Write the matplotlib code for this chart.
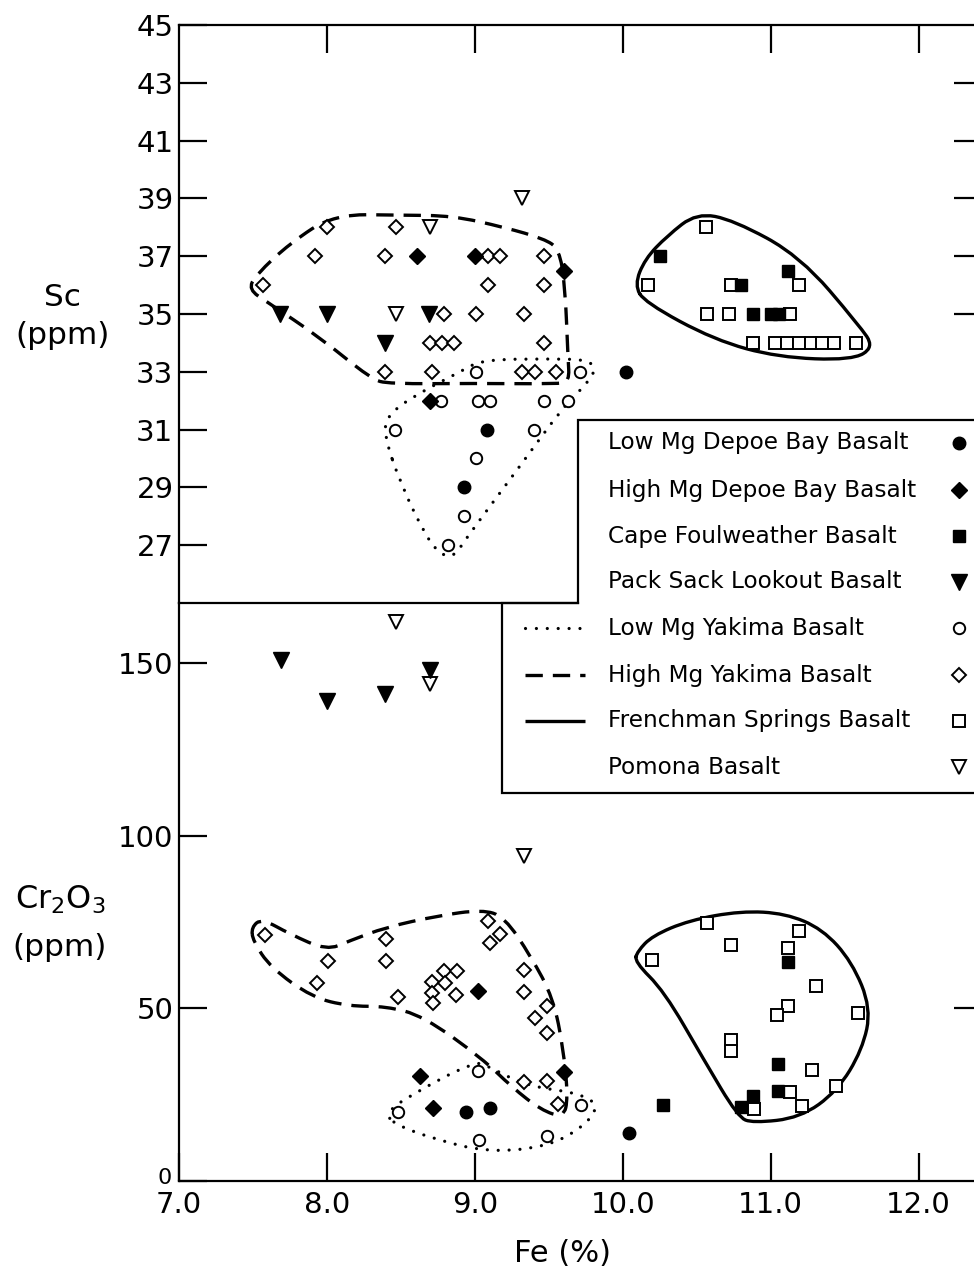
import numpy as np
import matplotlib
matplotlib.use("Agg")
import matplotlib.pyplot as plt
from matplotlib.path import Path
from matplotlib.patches import PathPatch, Polygon
from matplotlib.lines import Line2D

plt.rcParams['font.family'] = ['DejaVu Sans']
plt.rcParams['mathtext.fontset'] = 'dejavusans'

# ---- Sc (ppm) vs Fe (%) ----
low_mg_depoe_fe_sc = [9.08, 8.93, 10.02]
low_mg_depoe_sc = [31, 29, 33]
high_mg_depoe_fe_sc = [8.61, 9.00, 9.60, 8.70]
high_mg_depoe_sc = [37, 37, 36.5, 32]
cape_fe_sc = [10.25, 10.80, 11.12, 10.88, 11.00, 11.06]
cape_sc = [37, 36, 36.5, 35, 35, 35]
pack_sack_fe_sc = [7.68, 8.00, 8.39, 8.69]
pack_sack_sc = [35, 35, 34, 35]
low_mg_yakima_fe_sc = [9.01, 9.71, 8.77, 9.02, 9.10, 9.47, 9.63, 8.46, 9.40, 9.01, 8.93, 8.82]
low_mg_yakima_sc = [33, 33, 32, 32, 32, 32, 32, 31, 31, 30, 28, 27]
high_mg_yakima_fe_sc = [7.57, 8.00, 7.92, 8.47, 8.39, 9.09, 9.17, 9.47, 9.09, 9.47, 8.79,
                        9.01, 9.33, 8.70, 8.78, 8.86, 9.47, 8.39, 8.71, 9.32, 9.41, 9.55]
high_mg_yakima_sc = [36, 38, 37, 38, 37, 37, 37, 37, 36, 36, 35,
                     35, 35, 34, 34, 34, 34, 33, 33, 33, 33, 33]
frenchman_fe_sc = [10.56, 10.17, 10.73, 11.19, 10.57, 10.72, 11.13, 10.88,
                   11.03, 11.11, 11.19, 11.27, 11.35, 11.43, 11.58]
frenchman_sc = [38, 36, 36, 36, 35, 35, 35, 34, 34, 34, 34, 34, 34, 34, 34]
pomona_fe_sc = [9.32, 8.70, 8.47]
pomona_sc = [39, 38, 35]

# ---- Cr2O3 (ppm) vs Fe (%) ----
low_mg_depoe_fe_cr = [8.94, 9.10, 10.04]
low_mg_depoe_cr = [20, 21, 14]
high_mg_depoe_fe_cr = [9.02, 8.63, 8.72, 9.60]
high_mg_depoe_cr = [55, 30.5, 21, 31.5]
cape_fe_cr = [10.27, 11.12, 11.05, 11.05, 10.88, 10.80]
cape_cr = [22, 63.5, 34, 26, 24.5, 21.5]
pack_sack_fe_cr = [7.69, 8.00, 8.39, 8.70]
pack_sack_cr = [151, 139, 141, 148]
low_mg_yakima_fe_cr = [8.48, 9.02, 9.03, 9.49, 9.72]
low_mg_yakima_cr = [20, 32, 12, 13, 22]
high_mg_yakima_fe_cr = [7.58, 8.01, 7.93, 8.40, 8.40, 8.48, 8.71, 8.71, 8.72, 8.79, 8.80, 8.88,
                        8.87, 9.09, 9.17, 9.10, 9.33, 9.33, 9.49, 9.41, 9.49, 9.33, 9.49, 9.56]
high_mg_yakima_cr = [71.3, 63.6, 57.3, 70.0, 63.8, 53.2, 57.5, 54.4, 51.5, 60.7, 57.3, 60.9,
                     53.9, 75.2, 71.5, 68.9, 61.0, 54.6, 50.7, 47.2, 42.8, 28.8, 29.1, 22.2]
frenchman_fe_cr = [10.20, 10.57, 10.73, 11.12, 11.19, 11.31, 11.12, 11.04,
                   11.59, 10.73, 10.73, 11.28, 11.44, 11.13, 11.21, 10.89]
frenchman_cr = [64.1, 74.7, 68.4, 67.6, 72.5, 56.6, 50.8, 48.1,
                48.6, 40.9, 37.7, 32.2, 27.5, 25.9, 21.8, 20.8]
pomona_fe_cr = [9.33, 8.47, 8.70]
pomona_cr = [94, 162, 144]

# ---- field boundaries (control points of closed curves) ----
high_yak_sc_env_x = [7.47, 7.52, 7.75, 8.05, 8.5, 8.85, 9.2, 9.47, 9.57, 9.61, 9.63, 9.64,
                     9.55, 9.0, 8.42, 8.3, 7.95, 7.6]
high_yak_sc_env_y = [35.85, 36.35, 37.45, 38.45, 38.42, 38.4, 38.0, 37.6, 37.25, 36.0, 33.5, 32.65,
                     32.58, 32.6, 32.58, 32.75, 34.2, 35.4]
low_yak_sc_env_x = [8.38, 8.42, 8.6, 8.9, 9.05, 9.5, 9.76, 9.82, 9.76, 9.6, 9.3, 8.95,
                    8.86, 8.78, 8.68, 8.5]
low_yak_sc_env_y = [30.9, 31.55, 32.2, 33.0, 33.42, 33.45, 33.42, 33.1, 32.6, 31.8, 29.7, 27.3,
                    26.6, 26.65, 27.2, 29.1]
french_sc_env_x = [10.08, 10.15, 10.3, 10.5, 10.75, 11.2, 11.6, 11.7, 11.55, 11.05, 10.62, 10.15]
french_sc_env_y = [36.0, 36.9, 37.7, 38.5, 38.25, 37.0, 34.6, 33.85, 33.4, 33.5, 34.1, 35.4]

high_yak_cr_env_x = [7.49, 7.56, 7.75, 8.0, 8.15, 8.4, 8.75, 9.05, 9.2, 9.38, 9.53, 9.6,
                     9.63, 9.6, 9.45, 9.25, 9.05, 8.65, 8.4, 8.15, 7.9, 7.62, 7.5]
high_yak_cr_env_y = [73.5, 76.0, 71.5, 66.8, 69.5, 73.5, 76.8, 78.6, 76.5, 65.0, 53.0, 38.0,
                     24.0, 18.4, 20.5, 27.2, 35.5, 47.8, 50.6, 50.6, 53.2, 61.8, 69.5]
low_yak_cr_env_x = [8.40, 8.55, 9.0, 9.1, 9.35, 9.7, 9.84, 9.75, 9.5, 9.1, 8.75, 8.45]
low_yak_cr_env_y = [19.8, 24.5, 34.8, 33.0, 27.5, 25.5, 22.0, 16.2, 10.0, 8.3, 11.8, 16.5]
french_cr_env_x = [10.1, 10.2, 10.45, 10.8, 11.1, 11.35, 11.55, 11.68, 11.62, 11.45, 11.2,
                   10.88, 10.78, 10.55, 10.28, 10.08]
french_cr_env_y = [66.5, 71.0, 75.5, 78.2, 77.5, 73.0, 63.5, 50.0, 38.0, 26.0, 18.3,
                   16.8, 18.5, 35.0, 55.0, 63.5]

legend_names = ['Low Mg Depoe Bay Basalt', 'High Mg Depoe Bay Basalt',
                'Cape Foulweather Basalt', 'Pack Sack Lookout Basalt',
                'Low Mg Yakima Basalt', 'High Mg Yakima Basalt',
                'Frenchman Springs Basalt', 'Pomona Basalt']

sc_ticks = list(range(27, 46, 2))
cr_ticks = [0, 50, 100, 150]
fe_ticks = [7.0, 8.0, 9.0, 10.0, 11.0, 12.0]

# marker style per unit: (marker, filled, size)
styles = [('o', True, 9.0), ('D', True, 8.0), ('s', True, 8.4), ('v', True, 11.5),
          ('o', False, 8.2), ('D', False, 7.6), ('s', False, 8.0), ('v', False, 10.5)]
env_dotted = dict(lw=2.3, linestyle=(0, (0.01, 3.4)), capstyle='round')
env_dashed = dict(lw=2.4, linestyle=(0, (5.2, 3.0)), capstyle='butt')
env_solid = dict(lw=2.4, linestyle='-', capstyle='round')

W, H = 974, 1270
fig = plt.figure(figsize=(W / 100, H / 100), dpi=100)


def fx(px):
    return px / W


def fy(py):
    return 1 - py / H


x_left, x_right, y_top, y_mid, y_bot = 179, 982, 25, 603, 1181
ax_sc = fig.add_axes([fx(x_left), fy(y_mid), (x_right - x_left) / W, (y_mid - y_top) / H])
ax_cr = fig.add_axes([fx(x_left), fy(y_bot), (x_right - x_left) / W, (y_bot - y_mid) / H])
fe_max = 7.0 + (x_right - x_left) / 147.9

for ax in (ax_sc, ax_cr):
    ax.set_xlim(7.0, fe_max)
    for s in ax.spines.values():
        s.set_linewidth(1.6)
ax_sc.set_ylim(25, 45)
ax_cr.set_ylim(0, (y_bot - y_mid) / 3.453)
ax_sc.spines['bottom'].set_visible(False)
ax_cr.spines['top'].set_visible(False)

tick_kw = dict(direction='in', length=20, width=1.6, labelsize=21, pad=4)
ax_sc.set_yticks(sc_ticks)
ax_sc.set_xticks(fe_ticks[1:])
ax_sc.tick_params(axis='y', **tick_kw)
ax_sc.tick_params(axis='x', top=True, bottom=False, labelbottom=False, **tick_kw)
ax_cr.set_yticks(cr_ticks)
# the zero label sits smaller, just above the Fe scale
ax_cr.set_yticklabels([''] + [str(v) for v in cr_ticks[1:]])
ax_cr.annotate(str(cr_ticks[0]), xy=(0, cr_ticks[0]), xycoords=('axes fraction', 'data'),
               xytext=(-5, 2.5), textcoords='offset points', ha='right', va='center', fontsize=16)
ax_cr.set_xticks(fe_ticks)
ax_cr.set_xticklabels([f'{v:.1f}' for v in fe_ticks])
ax_cr.tick_params(axis='y', **tick_kw)
ax_cr.tick_params(axis='x', **{**tick_kw, 'pad': 7})

# inward ticks on the right-hand border
for ax, rticks in ((ax_sc, [35, 37, 39, 41, 43]), (ax_cr, [50])):
    tw = ax.twinx()
    tw.set_ylim(ax.get_ylim())
    tw.set_yticks(rticks)
    tw.tick_params(axis='y', direction='in', length=20, width=1.6, labelright=False)
    for s in tw.spines.values():
        s.set_visible(False)


def closed_outline(xs, ys):
    pts = np.column_stack([xs, ys])
    mids = (pts + np.roll(pts, -1, axis=0)) / 2
    verts = [mids[-1]]
    codes = [Path.MOVETO]
    for p, m in zip(pts, mids):
        verts += [p, m]
        codes += [Path.CURVE3, Path.CURVE3]
    return Path(verts, codes)


def draw_env(ax, xs, ys, style):
    ax.add_patch(PathPatch(closed_outline(xs, ys), fill=False, ec='black',
                           joinstyle='round', zorder=2, **style))


draw_env(ax_sc, high_yak_sc_env_x, high_yak_sc_env_y, env_dashed)
draw_env(ax_sc, low_yak_sc_env_x, low_yak_sc_env_y, env_dotted)
draw_env(ax_sc, french_sc_env_x, french_sc_env_y, env_solid)
draw_env(ax_cr, high_yak_cr_env_x, high_yak_cr_env_y, env_dashed)
draw_env(ax_cr, low_yak_cr_env_x, low_yak_cr_env_y, env_dotted)
draw_env(ax_cr, french_cr_env_x, french_cr_env_y, env_solid)


def marker_kw(style):
    m, filled, ms = style
    return dict(marker=m, ms=ms, mec='black', mew=1.4 if not filled else 1.0,
                mfc='black' if filled else 'white', linestyle='none')


sc_series = [(low_mg_depoe_fe_sc, low_mg_depoe_sc), (high_mg_depoe_fe_sc, high_mg_depoe_sc),
             (cape_fe_sc, cape_sc), (pack_sack_fe_sc, pack_sack_sc),
             (low_mg_yakima_fe_sc, low_mg_yakima_sc), (high_mg_yakima_fe_sc, high_mg_yakima_sc),
             (frenchman_fe_sc, frenchman_sc), (pomona_fe_sc, pomona_sc)]
cr_series = [(low_mg_depoe_fe_cr, low_mg_depoe_cr), (high_mg_depoe_fe_cr, high_mg_depoe_cr),
             (cape_fe_cr, cape_cr), (pack_sack_fe_cr, pack_sack_cr),
             (low_mg_yakima_fe_cr, low_mg_yakima_cr), (high_mg_yakima_fe_cr, high_mg_yakima_cr),
             (frenchman_fe_cr, frenchman_cr), (pomona_fe_cr, pomona_cr)]

# open symbols first, filled ones on top
order = [4, 5, 6, 7, 0, 1, 2, 3]
for i in order:
    ax_sc.plot(*sc_series[i], zorder=3, clip_on=False, **marker_kw(styles[i]))
    ax_cr.plot(*cr_series[i], zorder=3, clip_on=False, **marker_kw(styles[i]))

# legend box with a stepped outline
box = [(578, 420), (1000, 420), (1000, 793), (502, 793), (502, 603), (578, 603)]
fig.add_artist(Polygon([(fx(a), fy(b)) for a, b in box], closed=True, transform=fig.transFigure,
                       fc='white', ec='black', lw=1.6, zorder=10))
fig.add_artist(Line2D([fx(x_left), fx(578)], [fy(y_mid)] * 2, transform=fig.transFigure,
                      color='black', lw=1.6, zorder=10))

row_y = [443, 490, 536, 582, 628, 675, 721, 767]
env_styles = {4: env_dotted, 5: env_dashed, 6: env_solid}
for i, (name, yy) in enumerate(zip(legend_names, row_y)):
    fig.text(fx(608), fy(yy), name, ha='left', va='center', fontsize=16.7, zorder=11)
    fig.add_artist(Line2D([fx(959)], [fy(yy)], transform=fig.transFigure, zorder=11,
                          **marker_kw(styles[i])))
    if i in env_styles:
        st = env_styles[i]
        fig.add_artist(Line2D([fx(525), fx(585)], [fy(yy)] * 2, transform=fig.transFigure,
                              color='black', lw=st['lw'], linestyle=st['linestyle'],
                              solid_capstyle='butt', dash_capstyle=st['capstyle'], zorder=11))

fig.text(fx(62), fy(297), 'Sc', ha='center', va='center', fontsize=22.5)
fig.text(fx(63), fy(336), '(ppm)', ha='center', va='center', fontsize=22.5)
fig.text(fx(60), fy(900), r'Cr$_2$O$_3$', ha='center', va='center', fontsize=23)
fig.text(fx(60), fy(947), '(ppm)', ha='center', va='center', fontsize=22.5)
fig.text(fx(563), fy(1254), 'Fe (%)', ha='center', va='center', fontsize=22)

fig.savefig('out.png', dpi=100)
